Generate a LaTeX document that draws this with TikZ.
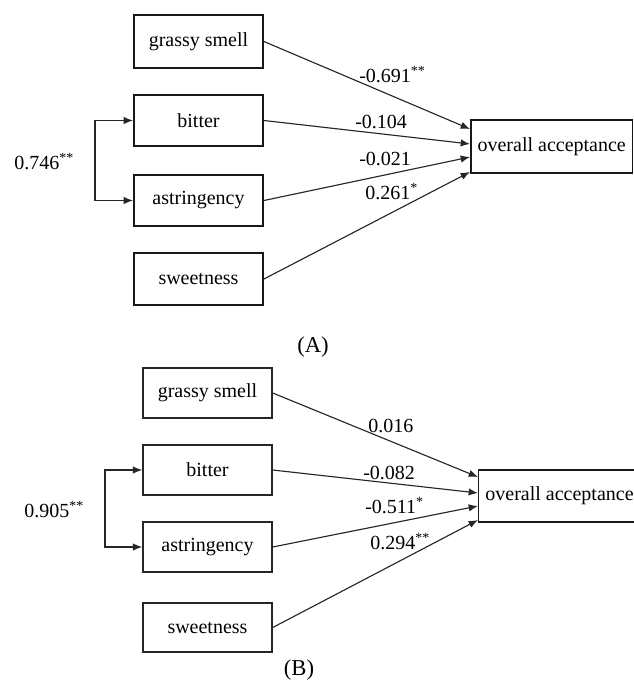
\documentclass[tikz,border=0pt]{standalone}
\usepackage{fontspec}
\setmainfont{Liberation Serif}
\usetikzlibrary{arrows.meta}
\begin{document}
\begin{tikzpicture}[x=0.75pt,y=-0.75pt,
  fnt/.style={font=\fontsize{15}{18}\selectfont},
  boxA/.style={fnt, draw=black!90, line width=1.4pt, minimum width=96.75pt, inner sep=0pt},
  boxB/.style={fnt, draw=black!85, line width=1.1pt, minimum width=96.75pt, inner sep=0pt},
  outbox/.style={fnt, draw=black!90, inner xsep=5pt, inner ysep=0pt, anchor=west},
  conn/.style={draw=black!85, line width=0.85pt, -{Latex[length=7pt,width=5.5pt]}},
  corr/.style={draw=black!85, line width=0.85pt, {Latex[length=7pt,width=5.5pt]}-{Latex[length=7pt,width=5.5pt]}},
  lab/.style={fnt, inner sep=0pt, anchor=base west},
  captext/.style={font=\fontsize{17}{20}\selectfont, inner sep=0pt}
]
\useasboundingbox (0,0) rectangle (633,682);

% ---------- Panel A ----------
\node[boxA, minimum height=39.75pt] (gsA) at (198.5,41.5) {grassy smell};
\node[boxA, minimum height=38.25pt] (biA) at (198.5,120.5) {bitter};
\node[boxA, minimum height=38.25pt] (asA) at (198.5,200.5) {astringency};
\node[boxA, minimum height=39pt] (swA) at (198.5,279) {sweetness};
\node[outbox, line width=1.4pt, minimum height=39.75pt] (ovA) at (470,146.5) {overall acceptance};

\draw[conn] (gsA.east) -- ([yshift=13.1pt]ovA.west);
\draw[conn] (biA.east) -- ([yshift=1.9pt]ovA.west);
\draw[conn] (asA.east) -- ([yshift=-7.9pt]ovA.west);
\draw[conn] (swA.east) -- ([yshift=-19.1pt]ovA.west);

\coordinate (brA) at (95,160);
\draw[corr] (biA.west) -| (brA) |- (asA.west);

\node[lab] (lA1) at (359,82) {-0.691\textsuperscript{**}};
\node[lab] (lA2) at (355,128) {-0.104};
\node[lab] (lA3) at (359,165) {-0.021};
\node[lab] (lA4) at (365,199) {0.261\textsuperscript{*}};
\node[lab] (cA) at (14,169) {0.746\textsuperscript{**}};

\node[captext] (capA) at (313,347) {(A)};

% ---------- Panel B ----------
\node[boxB, minimum height=37.5pt] (gsB) at (207.5,393) {grassy smell};
\node[boxB, minimum height=37.5pt] (biB) at (207.5,470) {bitter};
\node[boxB, minimum height=37.5pt] (asB) at (207.5,547) {astringency};
\node[boxB, minimum height=36.75pt] (swB) at (207.5,627.5) {sweetness};
\node[outbox, line width=1.1pt, minimum height=39pt] (ovB) at (478,496) {overall acceptance};

\draw[conn] (gsB.east) -- ([yshift=14.25pt]ovB.west);
\draw[conn] (biB.east) -- ([yshift=2.25pt]ovB.west);
\draw[conn] (asB.east) -- ([yshift=-7.5pt]ovB.west);
\draw[conn] (swB.east) -- ([yshift=-18pt]ovB.west);

\coordinate (brB) at (105,508);
\draw[corr] (biB.west) -| (brB) |- (asB.west);

\node[lab] (lB1) at (368,432) {0.016};
\node[lab] (lB2) at (363,479) {-0.082};
\node[lab] (lB3) at (365,513) {-0.511\textsuperscript{*}};
\node[lab] (lB4) at (370,549) {0.294\textsuperscript{**}};
\node[lab] (cB) at (24,517) {0.905\textsuperscript{**}};

\node[captext] (capB) at (299,670) {(B)};
\end{tikzpicture}
\end{document}
